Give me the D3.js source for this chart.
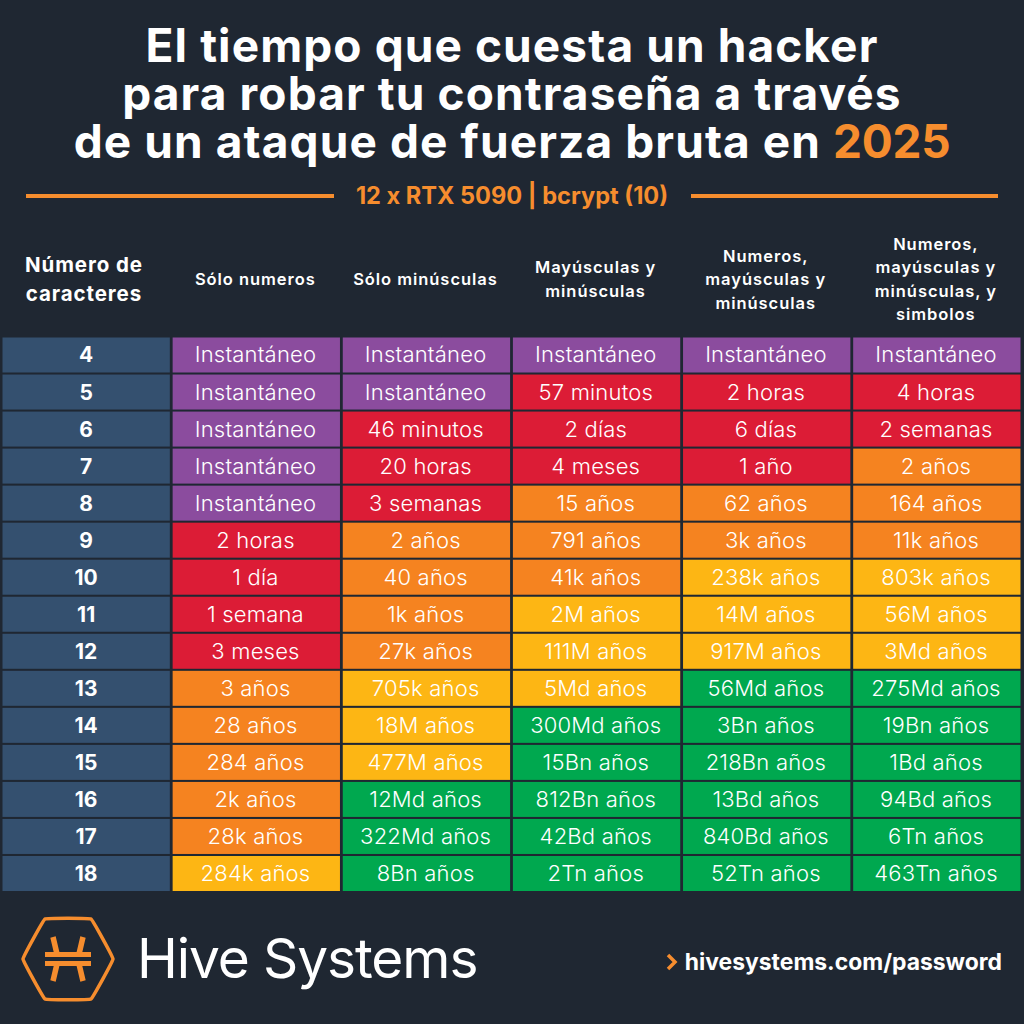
<!DOCTYPE html>
<html><head><meta charset="utf-8"><script src="https://cdn.jsdelivr.net/npm/d3@7"></script>
<style>html,body{margin:0;padding:0;background:#1f2732}svg{display:block}svg{font-family:Inter,Lato,sans-serif}</style></head>
<body><svg id="c" width="1024" height="1024"></svg>
<script>
const rowLabels=["4","5","6","7","8","9","10","11","12","13","14","15","16","17","18"];
const columns=[["Sólo numeros"],["Sólo minúsculas"],["Mayúsculas y","minúsculas"],["Numeros,","mayúsculas y","minúsculas"],["Numeros,","mayúsculas y","minúsculas, y","simbolos"]];
const col1=["Instantáneo","Instantáneo","Instantáneo","Instantáneo","Instantáneo","2 horas","1 día","1 semana","3 meses","3 años","28 años","284 años","2k años","28k años","284k años"];
const col2=["Instantáneo","Instantáneo","46 minutos","20 horas","3 semanas","2 años","40 años","1k años","27k años","705k años","18M años","477M años","12Md años","322Md años","8Bn años"];
const col3=["Instantáneo","57 minutos","2 días","4 meses","15 años","791 años","41k años","2M años","111M años","5Md años","300Md años","15Bn años","812Bn años","42Bd años","2Tn años"];
const col4=["Instantáneo","2 horas","6 días","1 año","62 años","3k años","238k años","14M años","917M años","56Md años","3Bn años","218Bn años","13Bd años","840Bd años","52Tn años"];
const col5=["Instantáneo","4 horas","2 semanas","2 años","164 años","11k años","803k años","56M años","3Md años","275Md años","19Bn años","1Bd años","94Bd años","6Tn años","463Tn años"];
const tier1=["p","p","p","p","p","r","r","r","r","o","o","o","o","o","y"];
const tier2=["p","p","r","r","r","o","o","o","o","y","y","y","g","g","g"];
const tier3=["p","r","r","r","o","o","o","y","y","y","g","g","g","g","g"];
const tier4=["p","r","r","r","o","o","y","y","y","g","g","g","g","g","g"];
const tier5=["p","r","r","o","o","o","y","y","y","g","g","g","g","g","g"];
const tierKeys=["p","r","o","y","g"];
const tierColors=["#8b4c9e","#dc1c36","#f58320","#fdb614","#00a84f"];
const titleLines=["El tiempo que cuesta un hacker","para robar tu contraseña a través","de un ataque de fuerza bruta en "];
const titleYear="2025";
const subtitle="12 x RTX 5090 | bcrypt (10)";
const headerFirst=["Número de","caracteres"];
const brand="Hive Systems";
const url="hivesystems.com/password";

const svg=d3.select("#c");
const color=d3.scaleOrdinal(tierKeys,tierColors);
const x=d3.scaleBand().domain(d3.range(6)).range([2.5,1020.5]).paddingInner(0.0165).paddingOuter(0);
const y=d3.scaleBand().domain(rowLabels).range([337.5,891]).paddingInner(0.055).paddingOuter(0);
const vals=[col1,col2,col3,col4,col5], tiers=[tier1,tier2,tier3,tier4,tier5];
const orange="#f68d2e";

const t=svg.append("g").attr("text-anchor","middle").attr("fill","#fff").attr("font-size",46).attr("font-weight",700).attr("letter-spacing",1.1);
titleLines.forEach((l,i)=>{const e=t.append("text").attr("x",512).attr("y",[62,110,158][i]).text(l);
 if(i==2)e.append("tspan").attr("fill",orange).attr("letter-spacing",-0.3).text(titleYear);});
svg.append("text").attr("x",512).attr("y",204).attr("text-anchor","middle").attr("fill",orange).attr("font-size",23.6).attr("font-weight",700).text(subtitle);
svg.selectAll("line.rule").data([[26,334],[691,998]]).join("line").attr("x1",d=>d[0]).attr("x2",d=>d[1]).attr("y1",196).attr("y2",196).attr("stroke",orange).attr("stroke-width",4);

const hdr=svg.append("g").attr("text-anchor","middle").attr("fill","#fff");
headerFirst.forEach((l,i)=>hdr.append("text").attr("x",84).attr("y",272+i*29).attr("font-size",20.5).attr("letter-spacing",0.9).attr("font-weight",700).text(l));
columns.forEach((ls,c)=>{const cx=x(c+1)+x.bandwidth()/2-1;
 const y0=285-(ls.length-1)*23.5/2;
 ls.forEach((l,i)=>hdr.append("text").attr("x",cx).attr("y",y0+i*23.5).attr("font-size",16.5).attr("letter-spacing",0.95).attr("font-weight",600).text(l));});

const rows=svg.selectAll("g.row").data(rowLabels).join("g").attr("class","row").attr("transform",d=>`translate(0,${y(d)})`);
rows.append("rect").attr("x",x(0)).attr("width",x.bandwidth()).attr("height",y.bandwidth()).attr("fill","#34506f");
rows.append("text").attr("x",x(0)+x.bandwidth()/2).attr("y",y.bandwidth()/2+7.5).attr("text-anchor","middle").attr("fill","#fff").attr("font-size",21).attr("font-weight",700).text(d=>d);
vals.forEach((v,c)=>{
 const g=svg.append("g");
 g.selectAll("rect").data(v).join("rect").attr("x",x(c+1)).attr("y",(d,i)=>y(rowLabels[i])).attr("width",x.bandwidth()).attr("height",y.bandwidth()).attr("fill",(d,i)=>color(tiers[c][i]));
 g.selectAll("text").data(v).join("text").attr("x",x(c+1)+x.bandwidth()/2-0.8).attr("y",(d,i)=>y(rowLabels[i])+y.bandwidth()/2+7.5).attr("text-anchor","middle").attr("fill","#fff").attr("font-size",22).attr("letter-spacing",0.2).attr("font-weight",300).text(d=>d);
});

// logo
const cx=68,cy=959;
const hexPts=[[-45,0],[-23,-40],[23,-40],[45,0],[23,40],[-23,40]].map(p=>[cx+p[0],cy+p[1]]);
const logo=svg.append("g").attr("fill","none").attr("stroke",orange);
logo.append("path").attr("d",d3.line().curve(d3.curveCardinalClosed.tension(0.85))(hexPts)).attr("stroke-width",3.5);
logo.append("path").attr("d",`M${cx-23},${cy-4.5}H${cx+23}M${cx-23},${cy+4.5}H${cx+23}`).attr("stroke-width",5);
logo.append("path").attr("d",`M${cx-15},${cy-22}L${cx-11},${cy-5}M${cx+15},${cy-22}L${cx+11},${cy-5}M${cx-15},${cy+22}L${cx-11},${cy+5}M${cx+15},${cy+22}L${cx+11},${cy+5}`).attr("stroke-width",5.5);
svg.append("text").attr("x",137).attr("y",978).attr("fill","#fff").attr("font-size",55).attr("letter-spacing",-1.1).attr("font-weight",400).text(brand);
svg.append("path").attr("d","M668,955L675,962L668,969").attr("fill","none").attr("stroke",orange).attr("stroke-width",3.5);
svg.append("text").attr("x",1002).attr("y",970).attr("text-anchor","end").attr("fill","#fff").attr("font-size",22.9).attr("font-weight",700).text(url);
</script></body></html>
